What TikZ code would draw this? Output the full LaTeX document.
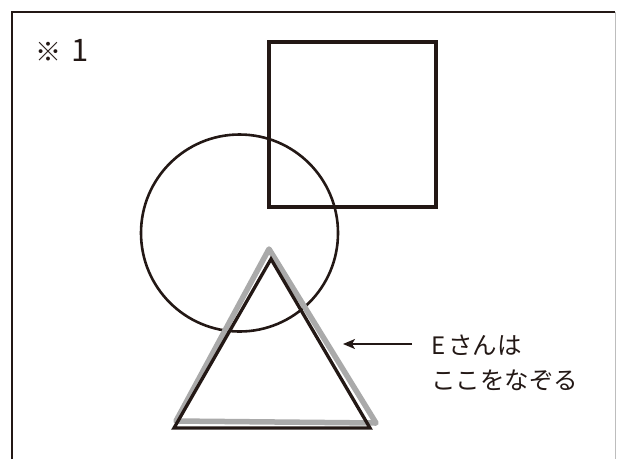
\documentclass[tikz,border=0pt]{standalone}
\usepackage{fontspec}
\setmainfont{Noto Sans CJK JP}
\usepackage{tikz}
\usetikzlibrary{arrows.meta}
\definecolor{ink}{HTML}{231815}
\definecolor{trace}{HTML}{AAAAAA}
\definecolor{edge}{HTML}{BDBDBD}

\begin{document}
\begin{tikzpicture}[
  x=1pt, y=-1pt,
  frame/.style={draw=ink, line width=1.1pt},
  outline/.style={draw=ink, line width=3.3pt, line join=miter},
  traced/.style={draw=trace, line width=5.5pt, line join=round, line cap=round},
  pointer/.style={draw=ink, line width=1.5pt, -{Stealth[length=12pt,width=10pt,inset=3pt]}},
  label/.style={anchor=west, inner sep=0pt, text=ink, font=\fontsize{24.5}{28}\selectfont}
]
\useasboundingbox (0,0) rectangle (617,459);
% frame
\draw[frame] (12,459) -- (12,12) -- (615,12);
\draw[draw=edge, line width=0.9pt] (615,12) -- (615,459);
\node[label, font=\fontsize{26}{30}\selectfont] (mark) at (35,50) {※\hspace{10pt}\fontsize{31}{32}\selectfont 1};
% square and circle
\draw[outline] (269,42) rectangle (436,207);
\coordinate (c) at (239.5,233);
\draw[outline, line width=2.6pt] (c) circle (98.5);
% traced triangle, then the drawn one
\coordinate (ga) at (269,249);
\coordinate (gb) at (176,421);
\coordinate (gc) at (376,423);
\draw[traced] (ga) -- (gb) -- (gc) -- cycle;
\coordinate (ta) at (271,259);
\coordinate (tb) at (174,428);
\coordinate (tc) at (370,428);
\draw[outline] (ta) -- (tb) -- (tc) -- cycle;
% note
\node[label] (lineA) at (431,345) {{\fontsize{24}{26}\selectfont E}\hspace{3pt}さんは};
\node[label] (lineB) at (431,380) {ここをなぞる};
\coordinate (tail) at (412,344);
\coordinate (tip) at (343,344);
\draw[pointer] (tail) -- (tip);
\end{tikzpicture}
\end{document}
